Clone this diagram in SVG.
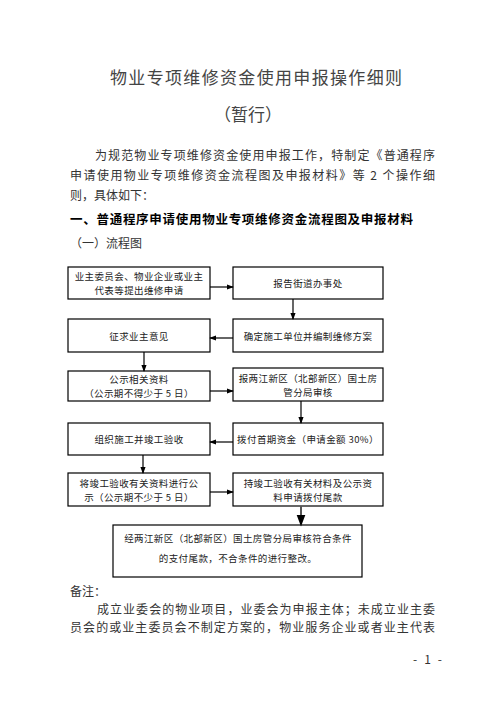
<svg xmlns="http://www.w3.org/2000/svg" width="496" height="702" viewBox="0 0 496 702">
<defs>
<style>
text{font-family:"Noto Sans CJK SC","Liberation Serif",serif;fill:#222;}
.t{font-size:17px;fill:#444;}
.p{font-size:12px;fill:#333;}
.h{font-size:12.5px;font-weight:bold;fill:#000;}
.b{font-size:9.5px;letter-spacing:0.4px;text-anchor:middle;dominant-baseline:central;}
.box{fill:#fff;stroke:#000;stroke-width:1.2;}
.c{stroke:#000;stroke-width:1.2;fill:none;marker-end:url(#ah);}
</style>
<marker id="ah" viewBox="0 0 8 8" refX="7" refY="4" markerWidth="6" markerHeight="6" orient="auto">
<path d="M0,1 L8,4 L0,7 Z" fill="#000"/>
</marker>
</defs>
<rect width="496" height="702" fill="#fff"/>
<text class="t" x="110" y="84" textLength="292">物业专项维修资金使用申报操作细则</text>
<text class="t" x="248" y="121" text-anchor="middle">（暂行）</text>
<text class="p" x="95" y="160" textLength="340">为规范物业专项维修资金使用申报工作，特制定《普通程序</text>
<text class="p" x="70" y="180" textLength="365">申请使用物业专项维修资金流程图及申报材料》等 2 个操作细</text>
<text class="p" x="70" y="200">则，具体如下：</text>
<text class="h" x="70" y="224" textLength="343">一、普通程序申请使用物业专项维修资金流程图及申报材料</text>
<text class="p" x="70" y="248">（一）流程图</text>
<g id="n1"><rect class="box" x="68" y="267" width="142" height="32"/><text class="b" x="139" y="276">业主委员会、物业企业或业主</text><text class="b" x="139" y="290">代表等提出维修申请</text></g>
<g id="n2"><rect class="box" x="233" y="267" width="150" height="32"/><text class="b" x="308" y="283">报告街道办事处</text></g>
<g id="n3"><rect class="box" x="68" y="319" width="142" height="33"/><text class="b" x="139" y="336">征求业主意见</text></g>
<g id="n4"><rect class="box" x="233" y="319" width="150" height="33"/><text class="b" x="308" y="336">确定施工单位并编制维修方案</text></g>
<g id="n5"><rect class="box" x="68" y="371" width="142" height="30"/><text class="b" x="139" y="379">公示相关资料</text><text class="b" x="139" y="393">（公示期不得少于 5 日）</text></g>
<g id="n6"><rect class="box" x="233" y="368" width="150" height="33"/><text class="b" x="308" y="377.5">报两江新区（北部新区）国土房</text><text class="b" x="308" y="391.5">管分局审核</text></g>
<g id="n7"><rect class="box" x="68" y="423" width="142" height="32"/><text class="b" x="139" y="439">组织施工并竣工验收</text></g>
<g id="n8"><rect class="box" x="233" y="423" width="150" height="32"/><text class="b" x="308" y="439">拨付首期资金（申请金额 30%）</text></g>
<g id="n9"><rect class="box" x="68" y="473" width="142" height="33"/><text class="b" x="139" y="482.5">将竣工验收有关资料进行公</text><text class="b" x="139" y="496.5">示（公示期不少于 5 日）</text></g>
<g id="n10"><rect class="box" x="233" y="473" width="150" height="33"/><text class="b" x="308" y="482.5">持竣工验收有关材料及公示资</text><text class="b" x="308" y="496.5">料申请拨付尾款</text></g>
<g id="n11"><rect class="box" x="113" y="525" width="249" height="52"/><text class="b" x="238" y="538">经两江新区（北部新区）国土房管分局审核符合条件</text><text class="b" x="238" y="558">的支付尾款，不合条件的进行整改。</text></g>
<g id="connectors">
<path class="c" d="M210,287 L233,287"/>
<path class="c" d="M293,299 L293,319"/>
<path class="c" d="M233,338 L210,338"/>
<path class="c" d="M144,352 L144,371"/>
<path class="c" d="M210,391 L233,391"/>
<path class="c" d="M301,401 L301,423"/>
<path class="c" d="M233,442 L210,442"/>
<path class="c" d="M143,455 L143,473"/>
<path class="c" d="M210,492 L233,492"/>
<path class="c" d="M301,506 L301,525" style="stroke:#555;stroke-width:2"/>
</g>
<text class="p" x="70" y="596">备注：</text>
<text class="p" x="97" y="614" textLength="338">成立业委会的物业项目，业委会为申报主体；未成立业主委</text>
<text class="p" x="70" y="632" textLength="365">员会的或业主委员会不制定方案的，物业服务企业或者业主代表</text>
<text class="p" x="413" y="664" textLength="29">- 1 -</text>
</svg>
